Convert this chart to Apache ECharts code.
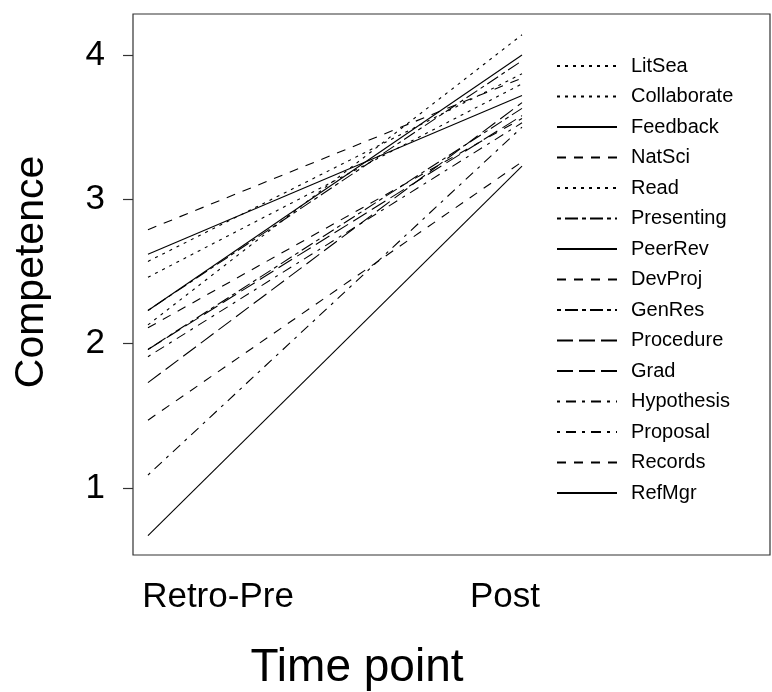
<!DOCTYPE html>
<html>
<head>
<meta charset="utf-8">
<script src="https://cdn.jsdelivr.net/npm/echarts@6/dist/echarts.min.js"></script>
<style>
  html, body { margin: 0; padding: 0; background: #fff; }
  #chart { width: 772px; height: 692px; }
</style>
</head>
<body>
<div id="chart"></div>
<script>
// competence per skill, retro-pre vs post
var skills = ['LitSea', 'Collaborate', 'Feedback', 'NatSci', 'Read', 'Presenting', 'PeerRev',
  'DevProj', 'GenRes', 'Procedure', 'Grad', 'Hypothesis', 'Proposal', 'Records', 'RefMgr'];
var retroPre = [2.13, 2.57, 2.62, 2.79, 2.46, 2.23, 2.23, 1.47, 1.96, 1.96, 1.73, 1.09, 1.91, 2.11, 0.67];
var post =     [4.14, 3.87, 3.72, 3.84, 3.80, 3.96, 4.00, 3.26, 3.63, 3.58, 3.67, 3.50, 3.53, 3.56, 3.23];
var lineTypes = ['dotted', 'dotted', 'solid', 'dashed', 'dotted', 'twodash', 'solid',
  'dashed', 'twodash', 'longdash', 'longdash', 'dotdash', 'dotdash', 'dashed', 'solid'];
var timeLabels = ['Retro-Pre', 'Post'];
var yTicks = [1, 2, 3, 4];

// R style lty -> dash arrays
var dashes = {
  solid: 'solid',
  dotted: [3, 5],
  dashed: [9, 8],
  longdash: [16, 6],
  dotdash: [3, 6, 10, 6],
  twodash: [4, 4, 13, 4]
};

var FONT = 'Liberation Sans';
var chart = echarts.init(document.getElementById('chart'), null, { renderer: 'canvas' });

var series = [];
for (var i = 0; i < skills.length; i++) {
  series.push({
    name: skills[i],
    type: 'line',
    symbol: 'none',
    silent: true,
    data: [[1, retroPre[i]], [2, post[i]]],
    lineStyle: { color: '#000', width: 1.1, type: dashes[lineTypes[i]] },
    itemStyle: { color: '#000' }
  });
}

chart.setOption({
  animation: false,
  textStyle: { fontFamily: FONT },
  grid: { left: 133, right: 2, top: 14, bottom: 137, show: true, borderColor: '#333', borderWidth: 1.2 },
  legend: {
    orient: 'vertical',
    left: 551,
    top: 51,
    itemWidth: 60,
    itemHeight: 14,
    itemGap: 10.5,
    data: skills,
    itemStyle: { opacity: 0 },
    textStyle: { fontFamily: FONT, fontSize: 20, color: '#000', padding: [0, 0, 0, 9] }
  },
  xAxis: {
    type: 'value',
    min: 0.96,
    max: 2.663,
    axisLine: { show: false },
    axisTick: { show: false },
    axisLabel: { show: false },
    splitLine: { show: false }
  },
  yAxis: {
    type: 'value',
    min: 0.536,
    max: 4.284,
    axisLine: { show: false },
    axisTick: { show: true, inside: false, length: 10, customValues: yTicks, lineStyle: { color: '#333', width: 1.2 } },
    axisLabel: { show: true, customValues: yTicks, margin: 28, fontSize: 35, color: '#000', fontFamily: FONT },
    splitLine: { show: false }
  },
  series: series
});

// x tick labels and axis titles
var graphics = [];
var labelX = [218, 505];
for (var k = 0; k < timeLabels.length; k++) {
  graphics.push({
    type: 'text', x: labelX[k], y: 597, silent: true,
    style: { text: timeLabels[k], fontSize: 35, fontFamily: FONT, fill: '#000', align: 'center', verticalAlign: 'middle' }
  });
}
chart.setOption({
  graphic: graphics.concat([
    { type: 'text', x: 357, y: 668, silent: true,
      style: { text: 'Time point', fontSize: 46, fontFamily: FONT, fill: '#000', align: 'center', verticalAlign: 'middle' } },
    { type: 'text', x: 32, y: 272, rotation: Math.PI / 2, silent: true,
      style: { text: 'Competence', fontSize: 41, fontFamily: FONT, fill: '#000', align: 'center', verticalAlign: 'middle' } }
  ])
});
</script>
</body>
</html>
